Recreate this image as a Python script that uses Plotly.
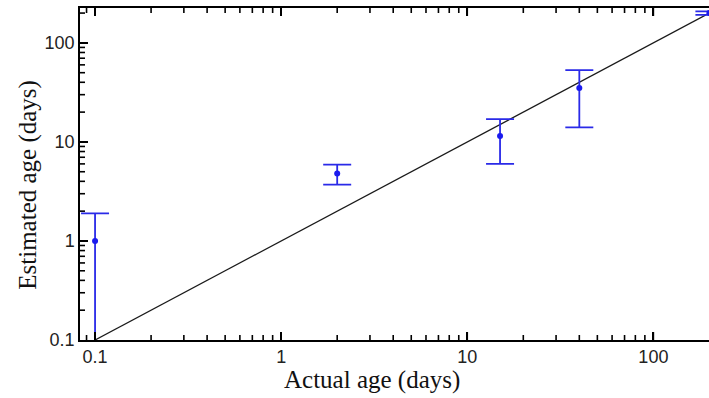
import plotly.graph_objects as go
import numpy as np

actual = [0.1, 2, 15, 40, 200]
estimated = [1.0, 4.8, 11.5, 35, 200]
err_plus = [0.9, 1.1, 5.5, 18, 8]
err_minus = [0.92, 1.1, 5.5, 21, 8]
line_x = [0.1, 200]
line_y = [0.1, 200]
tick_vals = [0.1, 1, 10, 100]
tick_text = ["0.1", "1", "10", "100"]
minor_vals = [m * d for d in [0.01, 0.1, 1, 10, 100] for m in range(2, 10)]

x_range = [0.083, 199]
y_range = [0.1, 225]

fig = go.Figure()
fig.add_trace(go.Scatter(x=line_x, y=line_y, mode="lines",
                         line=dict(color="#1a1a1a", width=1.3), showlegend=False))
fig.add_trace(go.Scatter(
    x=actual, y=estimated, mode="markers",
    marker=dict(color="#1a1aee", size=6, symbol="circle"),
    error_y=dict(type="data", symmetric=False, array=err_plus, arrayminus=err_minus,
                 color="#2a2ae8", thickness=1.8, width=14),
    showlegend=False, cliponaxis=True))

def axis_common(mirror):
    return dict(type="log", showline=True, linecolor="black", linewidth=1.5,
                mirror=mirror, ticks="inside", ticklen=8, tickwidth=1.6, tickcolor="black",
                showgrid=False, zeroline=False,
                tickmode="array", tickvals=tick_vals, ticktext=tick_text,
                tickfont=dict(family="Liberation Sans, Arial", size=18, color="#222222"))

shapes = []
tick_line = dict(color="black", width=1.6)
for vals, length in [(tick_vals, 8), (minor_vals, 5)]:
    for v in vals:
        if x_range[0] < v < x_range[1]:
            lv = float(np.log10(v))
            shapes.append(dict(type="line", xref="x", yref="paper", ysizemode="pixel",
                               yanchor=0, x0=v, x1=v, y0=0, y1=length, line=tick_line))
            shapes.append(dict(type="line", xref="x", yref="paper", ysizemode="pixel",
                               yanchor=1, x0=v, x1=v, y0=0, y1=-length, line=tick_line))
        if y_range[0] < v < y_range[1]:
            shapes.append(dict(type="line", yref="y", xref="paper", xsizemode="pixel",
                               xanchor=0, y0=v, y1=v, x0=0, x1=length, line=tick_line))

title_font = dict(family="Liberation Serif, Times New Roman", size=25, color="#111111")

fig.update_layout(
    width=709, height=398,
    margin=dict(l=80, r=0, t=8, b=58),
    paper_bgcolor="white", plot_bgcolor="white",
    xaxis=dict(axis_common("ticks"), range=list(np.log10(x_range))),
    yaxis=dict(axis_common(False), range=list(np.log10(y_range))),
    shapes=shapes,
    annotations=[
        dict(text="Actual age (days)", xref="paper", yref="paper", x=0.464, y=-0.12,
             xanchor="center", yanchor="middle", showarrow=False, font=title_font),
        dict(text="Estimated age (days)", xref="paper", yref="paper", x=-0.083, y=0.467,
             xanchor="center", yanchor="middle", showarrow=False, textangle=-90, font=title_font),
    ],
)
fig.write_html("out.html")
